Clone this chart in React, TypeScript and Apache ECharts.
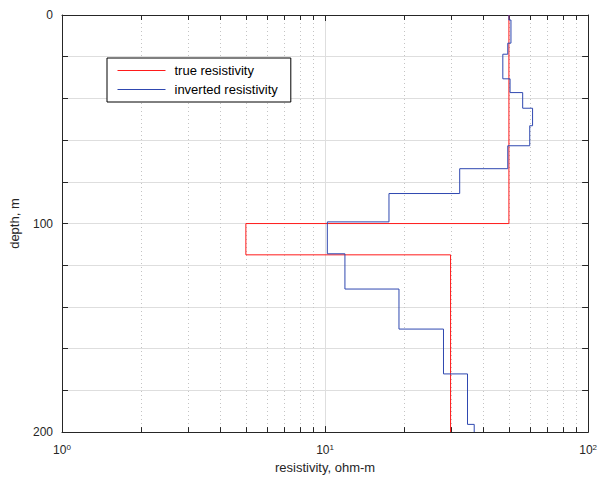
import React, { useEffect, useRef } from 'react';
import * as echarts from 'echarts';

// layer boundaries (depth, m) and resistivities (ohm-m)
const trueDepths = [0, 100, 115, 200];
const trueValues = [50, 5, 30];
const invDepths = [0, 2.4, 13.5, 18.8, 30.6, 37.2, 44.7, 53.1, 62.7, 73.7, 85.6, 99.2, 114.5, 131.4, 150.6, 172.1, 196.3, 200];
const invValues = [50.0, 50.9, 49.5, 47.4, 50.5, 56.4, 61.5, 60.0, 49.5, 32.5, 17.5, 10.2, 11.9, 19.1, 28.2, 34.8, 36.9];
const xMinorTicks = [2, 3, 4, 5, 6, 7, 8, 9, 20, 30, 40, 50, 60, 70, 80, 90];
const yLabelValues = [0, 100, 200];
const xLabelExponents: Record<number, string> = { 1: '0', 10: '1', 100: '2' };

const FONT = "'Liberation Sans', Arial, Helvetica, sans-serif";
const AXIS_COLOR = '#262626';

function steps(bounds: number[], vals: number[]) {
  const pts: number[][] = [];
  vals.forEach((v, i) => {
    pts.push([v, bounds[i]]);
    pts.push([v, bounds[i + 1]]);
  });
  return pts;
}

export default function App() {
  const ref = useRef<HTMLDivElement>(null);
  useEffect(() => {
    if (!ref.current) return;
    const chart = echarts.init(ref.current, undefined, { renderer: 'svg' });
    const axisLine = { show: true, onZero: false, lineStyle: { color: AXIS_COLOR, width: 1 } };
    const option: any = {
      animation: false,
      backgroundColor: '#ffffff',
      textStyle: { fontFamily: FONT },
      grid: { left: 62, right: 10, top: 15, bottom: 46, containLabel: false },
      legend: {
        data: ['true resistivity', 'inverted resistivity'],
        orient: 'vertical',
        left: 107,
        top: 58,
        itemWidth: 48,
        itemHeight: 14,
        itemGap: 6,
        padding: [6, 13, 6, 10],
        borderColor: '#000000',
        borderWidth: 1,
        backgroundColor: '#ffffff',
        itemStyle: { opacity: 0 },
        lineStyle: { width: 1 },
        textStyle: { fontFamily: FONT, fontSize: 13, color: '#000000', padding: [0, 0, 0, 4] },
      },
      xAxis: [
        {
          type: 'log',
          logBase: 10,
          min: 1,
          max: 100,
          position: 'bottom',
          axisLine,
          axisTick: { show: true, inside: true, length: 6, lineStyle: { color: AXIS_COLOR } },
          axisLabel: {
            margin: 11,
            formatter: (v: number) => `{b|10}{s|${xLabelExponents[Math.round(v)] ?? ''}}`,
            rich: {
              b: { fontFamily: FONT, fontSize: 12, color: AXIS_COLOR, lineHeight: 14 },
              s: { fontFamily: FONT, fontSize: 8, color: AXIS_COLOR, lineHeight: 8, verticalAlign: 'top' },
            },
          },
          splitLine: { show: true, lineStyle: { color: '#dedede', width: 1 } },
          name: 'resistivity, ohm-m',
          nameLocation: 'middle',
          nameGap: 28,
          nameTextStyle: { fontFamily: FONT, fontSize: 13, color: AXIS_COLOR },
        },
        {
          type: 'log',
          logBase: 10,
          min: 1,
          max: 100,
          position: 'top',
          axisLine,
          axisTick: { show: true, inside: true, length: 6, lineStyle: { color: AXIS_COLOR } },
          axisLabel: { show: false },
          splitLine: { show: false },
        },
      ],
      yAxis: [
        {
          type: 'value',
          inverse: true,
          min: 0,
          max: 200,
          interval: 20,
          position: 'left',
          axisLine,
          axisTick: { show: true, inside: true, length: 6, lineStyle: { color: AXIS_COLOR } },
          axisLabel: {
            margin: 9,
            fontFamily: FONT,
            fontSize: 12,
            color: AXIS_COLOR,
            formatter: (v: number) => (yLabelValues.includes(v) ? String(v) : ''),
          },
          splitLine: { show: true, lineStyle: { color: '#dedede', width: 1 } },
          name: 'depth, m',
          nameLocation: 'middle',
          nameGap: 41,
          nameRotate: 90,
          nameTextStyle: { fontFamily: FONT, fontSize: 13, color: AXIS_COLOR },
        },
        {
          type: 'value',
          inverse: true,
          min: 0,
          max: 200,
          interval: 20,
          position: 'right',
          axisLine,
          axisTick: { show: true, inside: true, length: 6, lineStyle: { color: AXIS_COLOR } },
          axisLabel: { show: false },
          splitLine: { show: false },
        },
      ],
      series: [
        {
          type: 'custom',
          name: 'minor',
          silent: true,
          z: 1,
          xAxisIndex: 0,
          yAxisIndex: 0,
          encode: { x: 0, y: 1 },
          data: xMinorTicks.map((v) => [v, 100]),
          renderItem: (params: any, api: any) => {
            const v = api.value(0);
            const top = api.coord([v, 0]);
            const bot = api.coord([v, 200]);
            const x = Math.round(top[0]) + 0.5;
            return {
              type: 'group',
              children: [
                {
                  type: 'line',
                  shape: { x1: x, y1: top[1], x2: x, y2: bot[1] },
                  style: { stroke: '#c4c4c4', lineWidth: 1, lineDash: [1, 3] },
                },
                {
                  type: 'line',
                  shape: { x1: x, y1: bot[1], x2: x, y2: bot[1] - 5 },
                  style: { stroke: AXIS_COLOR, lineWidth: 1 },
                },
                {
                  type: 'line',
                  shape: { x1: x, y1: top[1], x2: x, y2: top[1] + 5 },
                  style: { stroke: AXIS_COLOR, lineWidth: 1 },
                },
              ],
            };
          },
        },
        {
          type: 'line',
          name: 'true resistivity',
          data: steps(trueDepths, trueValues),
          symbol: 'none',
          z: 3,
          lineStyle: { color: '#ff1a1a', width: 1 },
          itemStyle: { color: '#ff1a1a' },
        },
        {
          type: 'line',
          name: 'inverted resistivity',
          data: steps(invDepths, invValues),
          symbol: 'none',
          z: 4,
          lineStyle: { color: '#2f48b0', width: 1 },
          itemStyle: { color: '#2f48b0' },
        },
      ],
    };
    chart.setOption(option);
    return () => chart.dispose();
  }, []);
  return <div ref={ref} style={{ width: 600, height: 479, position: 'absolute', left: 0, top: 0 }} />;
}
